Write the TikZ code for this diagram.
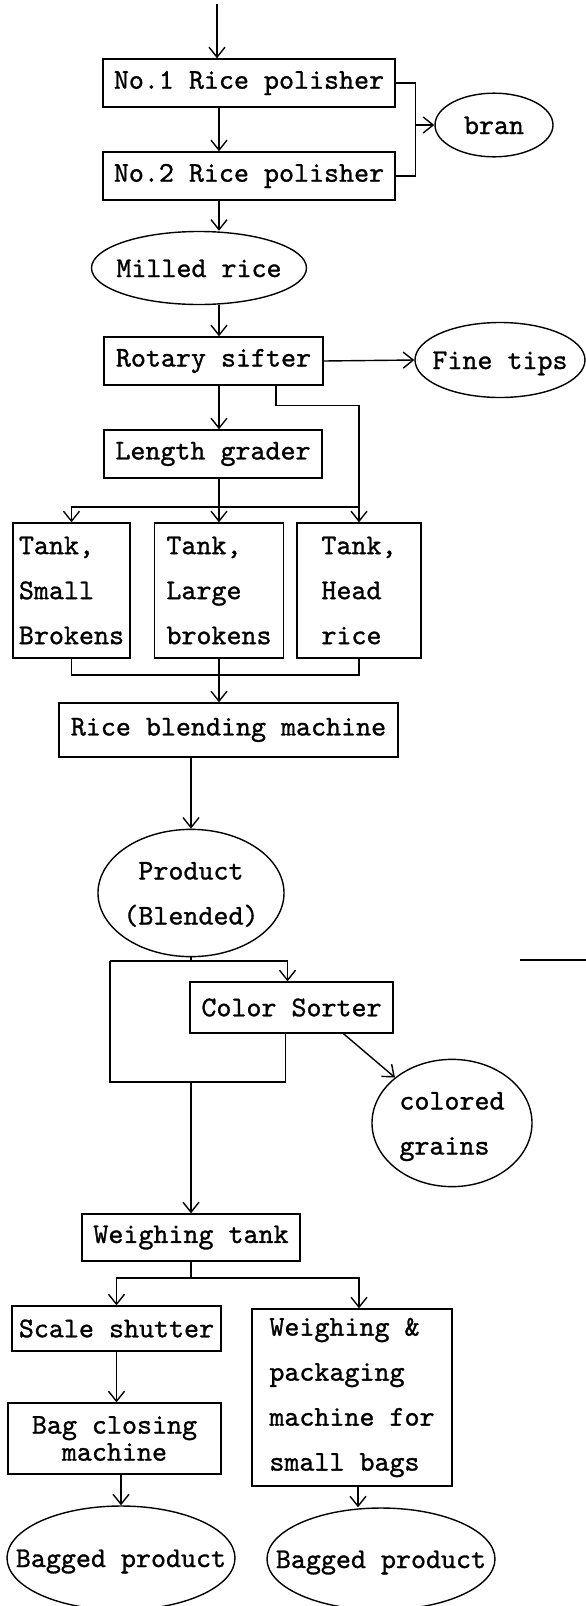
\documentclass[tikz,border=0pt]{standalone}
\usepackage{fontspec}
\newfontfamily\typist{lmmono10-regular.otf}[FakeBold=1]
\usetikzlibrary{arrows.meta,positioning,shapes.geometric}
\tikzset{
  >={Straight Barb[length=10pt,width=16pt]},
  every node/.style={font=\typist\fontsize{28.6}{45}\selectfont},
  unit/.style={draw,rectangle,inner sep=0pt,line width=1.4pt},
  tank/.style={unit,align=left,minimum height=135},
  outlet/.style={draw,ellipse,inner sep=0pt,line width=1.4pt},
  flow/.style={->,line width=1.4pt},
  pipe/.style={line width=1.4pt},
}
\newcommand{\stack}[2][c]{\makebox[0pt]{\begin{tabular}{@{}#1@{}}#2\end{tabular}}}

\begin{document}
\begin{tikzpicture}[x=1pt,y=-1pt]
\useasboundingbox (0,0) rectangle (586,1606);

% polishing
\node[unit,minimum width=292,minimum height=48] (pol1) at (249,83) {No.1 Rice polisher};
\node[unit,minimum width=292,minimum height=48] (pol2) at (249,176) {No.2 Rice polisher};
\node[outlet,minimum width=118,minimum height=44] (bran) at (494,125) {\stack{bran}};
\node[outlet,minimum width=215,minimum height=73] (milled) at (199,268) {\stack{Milled rice}};

% sifting and grading
\node[unit,minimum width=219,minimum height=48] (sifter) at (213.5,361) {Rotary sifter};
\node[outlet,minimum width=170,minimum height=75] (tips) at (500,360) {\stack{Fine tips}};
\node[unit,minimum width=218,minimum height=48] (grader) at (213,454) {Length grader};

% tanks
\node[tank,minimum width=117] (tankS) at (71.5,590.5) {Tank,\\Small\\Brokens};
\node[tank,minimum width=129] (tankL) at (219,590.5) {Tank,\\Large\\brokens};
\node[tank,minimum width=124] (tankH) at (359,590.5) {Tank,\\Head\\rice};

% blending and sorting
\node[unit,minimum width=339,minimum height=54] (blend) at (228.5,730) {Rice blending machine};
\node[outlet,minimum width=186,minimum height=107] (product) at (191,893) {\stack{Product\\(Blended)}};
\node[unit,minimum width=203,minimum height=51] (sorter) at (291.5,1007.5) {Color Sorter};
\node[outlet,minimum width=160,minimum height=113] (grains) at (452,1123) {\stack[l]{colored\\grains}};

% weighing and bagging
\node[unit,minimum width=218,minimum height=47] (weigh) at (191,1237.5) {Weighing tank};
\node[unit,minimum width=209,minimum height=45] (shutter) at (116.5,1328.5) {Scale shutter};
\node[unit,align=left,minimum width=200,minimum height=177] (packer) at (352,1397.5) {Weighing \&\\packaging\\machine for\\small bags};
\node[unit,align=center,minimum width=213,minimum height=71,font=\typist\fontsize{28.6}{27}\selectfont] (closer) at (114.5,1438.5) {Bag closing\\machine};
\node[outlet,minimum width=228,minimum height=104] (bag1) at (121,1558) {\stack{Bagged product}};
\node[outlet,minimum width=228,minimum height=102] (bag2) at (381,1559) {\stack{Bagged product}};

% main line
\coordinate (feed) at (217,4);
\coordinate (spine) at (219,0);
\draw[flow] (feed) -- (feed |- pol1.north);
\draw[flow] (spine |- pol1.south) -- (spine |- pol2.north);
\draw[pipe] (pol1.east) -- ++(20,0) |- (pol2.east);
\coordinate (branjoin) at (415,125);
\draw[flow] (branjoin) -- (bran.west);
\draw[flow] (spine |- pol2.south) -- (spine |- milled.north);
\draw[flow] (spine |- milled.south) -- (spine |- sifter.north);
\draw[flow] (sifter.east) -- (tips.west);
\draw[flow] (spine |- sifter.south) -- (spine |- grader.north);

% to the tanks
\coordinate (fines) at (276,0);
\coordinate (split) at (0,507);
\draw[flow] (fines |- sifter.south) -- ++(0,20) -| (tankH.north);
\draw[flow] (grader.south -| tankL.north) -- (tankL.north);
\draw[flow] (split -| tankL.north) -| (tankS.north);
\draw[pipe] (split -| tankL.north) -- (split -| tankH.north);

% from the tanks
\coordinate (merge) at (0,675);
\draw[pipe] (tankS.south) |- (merge -| tankH.south) -- (tankH.south);
\draw[flow] (tankL.south) -- (tankL.south |- blend.north);
\draw[flow] (blend.south -| product.north) -- (product.north);

% sorter with bypass
\coordinate (feedsort) at (0,961);
\coordinate (bypass) at (110,1082);
\draw[pipe] (product.south) -- (feedsort -| product.south);
\draw[flow] (feedsort -| bypass) -| ([xshift=-4]sorter.north);
\draw[pipe] (feedsort -| bypass) -- (bypass) -| ([xshift=-6]sorter.south);
\draw[flow] ([xshift=52]sorter.south) -- (grains.north west);
\draw[flow] (bypass -| weigh.north) -- (weigh.north);
\coordinate (cutA) at (520,960);
\coordinate (cutB) at (586,960);
\draw[pipe] (cutA) -- (cutB);

% bagging lines
\coordinate (fork) at (0,1278);
\coordinate (bagfeed) at (358,0);
\draw[pipe] (weigh.south) -- (fork -| weigh.south);
\draw[flow] (fork -| weigh.south) -| (shutter.north);
\draw[flow] (fork -| weigh.south) -| ([xshift=7]packer.north);
\draw[flow] (shutter.south) -- (shutter.south |- closer.north);
\draw[flow] (closer.south -| bag1.north) -- (bag1.north);
\draw[flow] (bagfeed |- packer.south) -- (bagfeed |- bag2.north);

\end{tikzpicture}
\end{document}
